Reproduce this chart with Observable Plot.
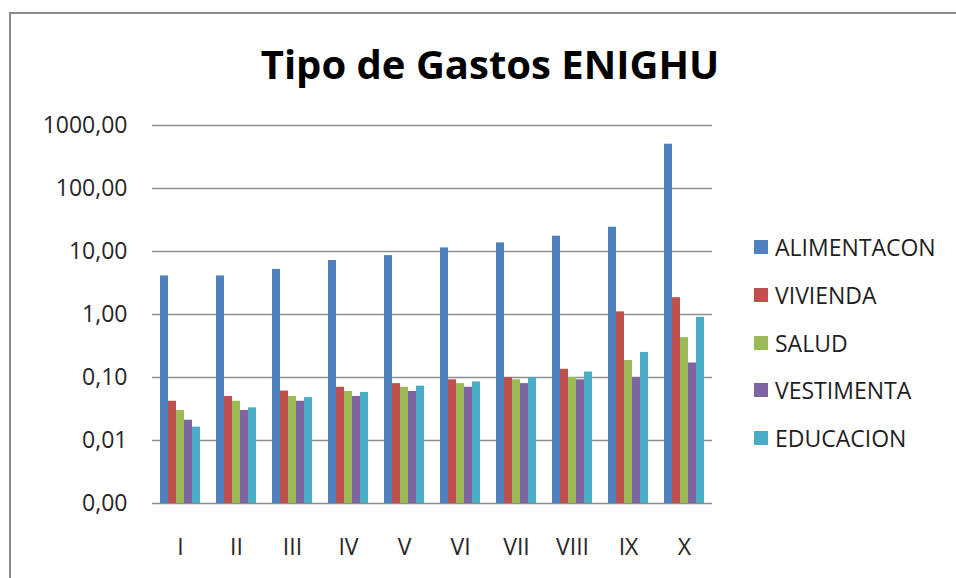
<!DOCTYPE html>
<html>
<head>
<meta charset="utf-8">
<script src="https://cdn.jsdelivr.net/npm/d3@7"></script>
<script src="https://cdn.jsdelivr.net/npm/@observablehq/plot@0.6"></script>
<style>
  html, body { margin: 0; padding: 0; background: #fff; width: 956px; height: 578px; overflow: hidden; }
  body { position: relative; font-family: "Open Sans", sans-serif; }
  #frame { position: absolute; left: 9px; top: 12px; width: 1100px; height: 700px; border: 2px solid #8a8a8a; box-sizing: border-box; }
  #title { position: absolute; left: 0; width: 980px; top: 44px; text-align: center; font-size: 40px; line-height: 40px; font-weight: 700; color: #000; }
  #chart { position: absolute; left: 0; top: 100px; }
  .leg { position: absolute; left: 754px; height: 30px; display: flex; align-items: center; font-size: 23px; color: #1f1f1f; white-space: nowrap; }
  .leg span.sw { display: inline-block; width: 14px; height: 14px; margin-right: 7px; }
</style>
</head>
<body>
<div id="frame"></div>
<div id="title">Tipo de Gastos ENIGHU</div>
<div id="chart"></div>
<div id="legend"></div>
<script>
const groups = ["I", "II", "III", "IV", "V", "VI", "VII", "VIII", "IX", "X"];
const series = ["ALIMENTACON", "VIVIENDA", "SALUD", "VESTIMENTA", "EDUCACION"];
const colors = ["#4F81BD", "#C0504D", "#9BBB59", "#8064A2", "#4BACC6"];
const alimentacon = [4.1, 4.1, 5.2, 7.2, 8.6, 11.4, 13.7, 17.5, 24.3, 505];
const vivienda   = [0.042, 0.05, 0.061, 0.07, 0.08, 0.092, 0.10, 0.135, 1.1, 1.85];
const salud      = [0.03, 0.042, 0.05, 0.06, 0.07, 0.08, 0.092, 0.10, 0.186, 0.43];
const vestimenta = [0.021, 0.03, 0.042, 0.05, 0.06, 0.07, 0.08, 0.092, 0.10, 0.17];
const educacion  = [0.0163, 0.033, 0.048, 0.058, 0.073, 0.085, 0.10, 0.122, 0.25, 0.9];
const yTicks = [0.001, 0.01, 0.1, 1, 10, 100, 1000];

const seriesValues = [alimentacon, vivienda, salud, vestimenta, educacion];
const data = [];
groups.forEach((g, gi) => {
  series.forEach((s, si) => {
    data.push({ group: g, series: s, value: seriesValues[si][gi] });
  });
});

const fmt = v => v.toFixed(2).replace(".", ",");

const chart = Plot.plot({
  width: 730,
  height: 478,
  marginTop: 25,
  marginBottom: 75,
  marginLeft: 152,
  marginRight: 18,
  style: { fontFamily: "Open Sans, sans-serif", fontSize: "23px", color: "#262626", background: "transparent", overflow: "visible" },
  fx: { domain: groups, padding: 0, label: null, tickSize: 0, tickPadding: 35 },
  x: { domain: series, axis: null, paddingInner: 0, paddingOuter: 0.82 },
  y: { type: "log", domain: [0.001, 1000], axis: null },
  color: { domain: series, range: colors },
  marks: [
    Plot.ruleY(yTicks, { stroke: "#8e8e8e", strokeWidth: 1.4 }),
    Plot.barY(data, { fx: "group", x: "series", y1: 0.001, y2: "value", fill: "series", insetLeft: 0, insetRight: 0 }),
    Plot.axisY(yTicks, { tickSize: 0, tickPadding: 25, tickFormat: fmt, label: null, fill: "#262626", fontSize: 23 }),
    Plot.ruleX([0], { frameAnchor: "left", stroke: "#8e8e8e", strokeWidth: 1.4, facet: "exclude" })
  ]
});
document.getElementById("chart").appendChild(chart);

const legend = document.getElementById("legend");
const legTops = [246.7, 295, 342.5, 389.5, 437.5];
series.forEach((s, i) => {
  const d = document.createElement("div");
  d.className = "leg";
  d.style.top = (legTops[i] - 15) + "px";
  d.innerHTML = `<span class="sw" style="background:${colors[i]}"></span>${s}`;
  legend.appendChild(d);
});
</script>
</body>
</html>
